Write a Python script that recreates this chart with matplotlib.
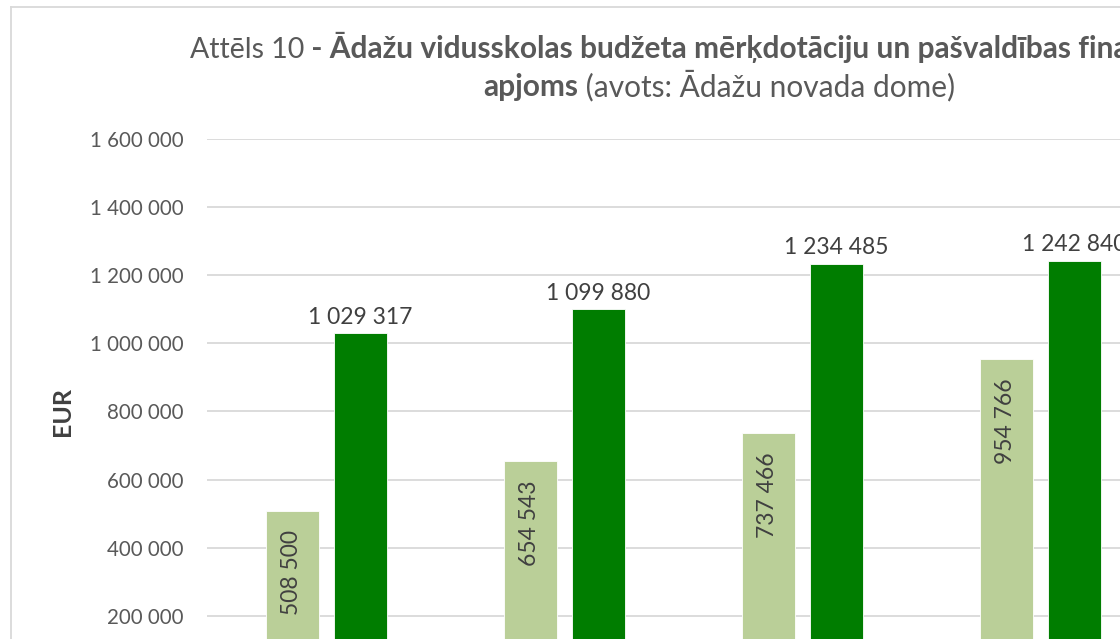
import numpy as np
import matplotlib
matplotlib.use("Agg")
import matplotlib.pyplot as plt
from matplotlib.lines import Line2D

# data
categories = ["2014", "2015", "2016", "2017"]
merkdotacija = [508500, 654543, 737466, 954766]
pasvaldiba = [1029317, 1099880, 1234485, 1242840]
yticks = [0, 200000, 400000, 600000, 800000, 1000000, 1200000, 1400000, 1600000]

plt.rcParams['font.family'] = ['Lato', 'DejaVu Sans']


def fmt(v):
    return f"{v:,.0f}".replace(",", " ")


W, H = 1120, 639
fig = plt.figure(figsize=(W / 100, H / 100), dpi=100)

# plot area runs past the right and bottom edges (reference is cropped)
ax = fig.add_axes([207 / W, (H - 684) / H, 952 / W, 545 / H])

x = np.arange(len(categories))
off = 34 / 238
w = 53 / 238
b1 = ax.bar(x - off, merkdotacija, w, color='#BACF98', edgecolor='white', linewidth=0.6, zorder=2)
b2 = ax.bar(x + off, pasvaldiba, w, color='#007D00', edgecolor='white', linewidth=0.6, zorder=2)

ax.set_xlim(-0.5, len(categories) - 0.5)
ax.set_ylim(0, 1600000)
ax.set_yticks(yticks)
ax.set_yticklabels([fmt(v) for v in yticks])
ax.set_xticks([])
ax.yaxis.grid(True, color='#D9D9D9', linewidth=1.3)
ax.set_axisbelow(True)
for s in ax.spines.values():
    s.set_visible(False)
ax.tick_params(axis='y', length=0, pad=17, labelsize=14.8, labelcolor='#595959')

# value labels
ax.bar_label(b2, labels=[fmt(v) for v in pasvaldiba], padding=4,
             fontsize=16.5, color='#404040')
for xi, v in zip(x - off, merkdotacija):
    ax.annotate(fmt(v), xy=(xi, v), xytext=(0, -14), textcoords='offset points',
                rotation=90, ha='center', va='top', fontsize=16.5, color='#404040')

fig.text(62.5 / W, 1 - 411 / H, 'EUR', rotation=90, ha='center', va='center',
         fontsize=18, fontweight='bold', color='#404040')

# title, mixed regular / bold
tc = '#595959'
t1 = fig.text(190 / W, 1 - 58 / H, 'Attēls 10', va='baseline', fontsize=20.5, color=tc)
t2 = ax.annotate(' - Ādažu vidusskolas budžeta mērķdotāciju un pašvaldības finansējuma',
                 xy=(1, 0), xycoords=t1, va='bottom', ha='left',
                 fontsize=21.5, fontweight='bold', color=tc, annotation_clip=False)
t3 = fig.text(483 / W, 1 - 96 / H, 'apjoms', va='baseline', fontsize=21.5,
              fontweight='bold', color=tc)
t4 = ax.annotate(' (avots: Ādažu novada dome)', xy=(1, 0), xycoords=t3,
                 va='bottom', ha='left', fontsize=21.5, color=tc, annotation_clip=False)

# chart border
fig.add_artist(Line2D([11 / W, 11 / W], [0, 1 - 7 / H], transform=fig.transFigure,
                      color='#D9D9D9', linewidth=1.3))
fig.add_artist(Line2D([11 / W, 1], [1 - 7 / H, 1 - 7 / H], transform=fig.transFigure,
                      color='#D9D9D9', linewidth=1.3))

fig.savefig('out.png', dpi=100)
